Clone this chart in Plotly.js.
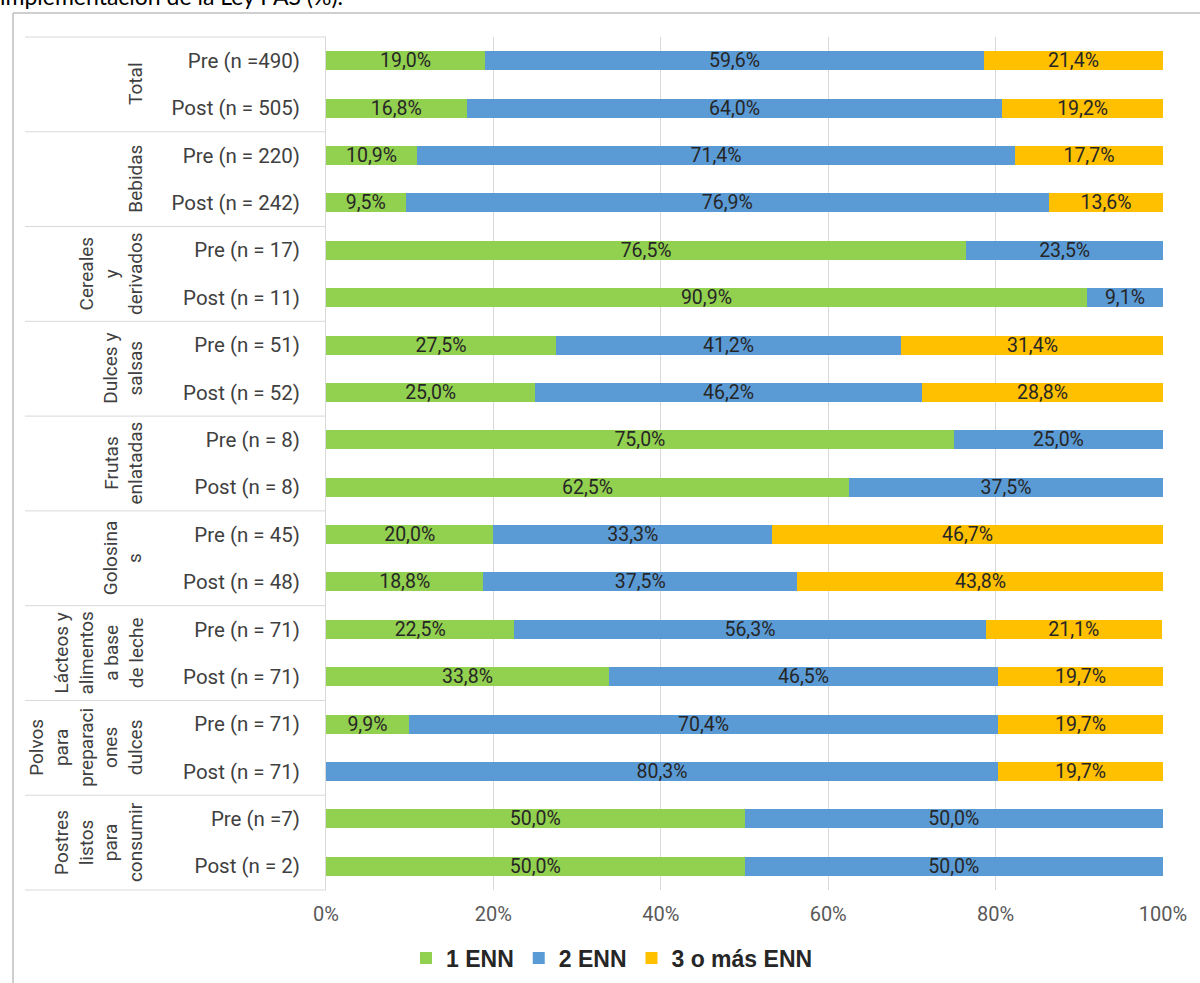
<!DOCTYPE html>
<html>
<head>
<meta charset="utf-8">
<script src="https://cdn.plot.ly/plotly-3.0.1.min.js"></script>
<style>html,body{margin:0;padding:0;background:#fff;}#chart{width:1200px;height:983px;}</style>
</head>
<body>
<div id="chart"></div>
<script>
// ---- data ----
const rowLabels = [
  "Pre (n =490)", "Post (n = 505)",
  "Pre (n = 220)", "Post (n = 242)",
  "Pre (n = 17)", "Post (n = 11)",
  "Pre (n = 51)", "Post (n = 52)",
  "Pre (n = 8)", "Post (n = 8)",
  "Pre (n = 45)", "Post (n = 48)",
  "Pre (n = 71)", "Post (n = 71)",
  "Pre (n = 71)", "Post (n = 71)",
  "Pre (n =7)", "Post (n = 2)"
];
const groupLabels = [
  "Total",
  "Bebidas",
  "Cereales<br>y<br>derivados",
  "Dulces y<br>salsas",
  "Frutas<br>enlatadas",
  "Golosina<br>s",
  "Lácteos y<br>alimentos<br>a base<br>de leche",
  "Polvos<br>para<br>preparaci<br>ones<br>dulces",
  "Postres<br>listos<br>para<br>consumir"
];
const enn1 = [19.0, 16.8, 10.9, 9.5, 76.5, 90.9, 27.5, 25.0, 75.0, 62.5, 20.0, 18.8, 22.5, 33.8, 9.9, null, 50.0, 50.0];
const enn2 = [59.6, 64.0, 71.4, 76.9, 23.5, 9.1, 41.2, 46.2, 25.0, 37.5, 33.3, 37.5, 56.3, 46.5, 70.4, 80.3, 50.0, 50.0];
const enn3 = [21.4, 19.2, 17.7, 13.6, null, null, 31.4, 28.8, null, null, 46.7, 43.8, 21.1, 19.7, 19.7, 19.7, null, null];
const seriesNames = ["1 ENN", "2 ENN", "3 o más ENN"];
const xTickVals = [0, 20, 40, 60, 80, 100];
const xTickText = ["0%", "20%", "40%", "60%", "80%", "100%"];
const titleText = "implementación de la Ley PAS (%).";

// ---- layout helpers ----
const W = 1200, H = 983;
const M = {l: 326, r: 37, t: 37, b: 93};
const PW = W - M.l - M.r, PH = H - M.t - M.b;
const px = x => (x - M.l) / PW;
const py = y => (H - M.b - y) / PH;

const yPos = rowLabels.map((_, i) => i);
const colors = ["#92D050", "#5B9BD5", "#FFC000"];
const seriesVals = [enn1, enn2, enn3];

const traces = seriesVals.map((vals, k) => ({
  type: "bar",
  orientation: "h",
  name: seriesNames[k],
  x: vals,
  y: yPos,
  marker: {color: colors[k], line: {width: 0}},
  texttemplate: "%{x:.1f}%",
  textposition: "inside",
  insidetextanchor: "middle",
  constraintext: "none",
  textangle: 0,
  textfont: {family: "Roboto", size: 19.5, color: "#262626"},
  hoverinfo: "skip"
}));

const shapes = [];
// outer chart frame
shapes.push({type: "line", xref: "paper", yref: "paper", x0: px(13), x1: px(13), y0: py(13), y1: py(1000), line: {color: "#BFBFBF", width: 1.5}});
shapes.push({type: "line", xref: "paper", yref: "paper", x0: px(13), x1: px(1220), y0: py(13), y1: py(13), line: {color: "#BFBFBF", width: 1.5}});
// group separators
for (let g = 0; g <= groupLabels.length; g++) {
  const yy = 1 - (2 * g) / rowLabels.length;
  shapes.push({type: "line", xref: "paper", yref: "paper", x0: px(25), x1: 0, y0: yy, y1: yy, line: {color: "#D9D9D9", width: 1}});
}

const annotations = groupLabels.map((t, g) => ({
  text: t,
  xref: "paper", yref: "paper",
  x: px(149), xanchor: "right",
  y: 1 - (2 * g + 1) / rowLabels.length, yanchor: "middle",
  textangle: -90,
  align: "center",
  showarrow: false,
  font: {family: "Roboto", size: 19, color: "#404040"}
}));
annotations.push({
  text: titleText,
  xref: "paper", yref: "paper",
  x: px(-2), xanchor: "left",
  y: py(12), yanchor: "bottom",
  showarrow: false,
  font: {family: "Lato", size: 23, color: "#000000"}
});

const layout = {
  width: W, height: H,
  margin: M,
  paper_bgcolor: "#ffffff",
  plot_bgcolor: "#ffffff",
  barmode: "stack",
  bargap: 0.6,
  separators: ",.",
  showlegend: true,
  xaxis: {
    range: [0, 100],
    tickvals: xTickVals,
    ticktext: xTickText,
    showgrid: true,
    gridcolor: "#D9D9D9",
    gridwidth: 1,
    zeroline: false,
    showline: false,
    ticks: "",
    ticklabelstandoff: 10,
    tickfont: {family: "Roboto", size: 20, color: "#595959"},
    fixedrange: true
  },
  yaxis: {
    range: [rowLabels.length - 0.5, -0.5],
    tickvals: yPos,
    ticktext: rowLabels,
    showgrid: false,
    zeroline: false,
    showline: true,
    linecolor: "#D9D9D9",
    linewidth: 1,
    ticks: "",
    ticklabelstandoff: 21,
    tickfont: {family: "Roboto", size: 20.5, color: "#404040"},
    fixedrange: true
  },
  legend: {
    orientation: "h",
    xref: "container", yref: "container",
    x: 612 / W, xanchor: "center",
    y: 1 - 958 / H, yanchor: "middle",
    font: {family: "Liberation Sans", size: 23, color: "#262626", weight: 700},
    itemwidth: 30,
    traceorder: "normal",
    bgcolor: "rgba(0,0,0,0)"
  },
  shapes: shapes,
  annotations: annotations
};

Plotly.newPlot("chart", traces, layout, {displayModeBar: false, staticPlot: true});
</script>
</body>
</html>
